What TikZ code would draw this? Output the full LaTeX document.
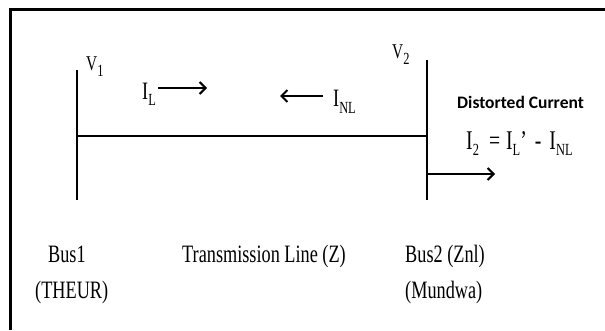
\documentclass[tikz,border=0pt]{standalone}
\usepackage{fontspec}
\setmainfont{Liberation Serif}
\newfontfamily\carl{Carlito}
\usetikzlibrary{arrows.meta}
\newcommand{\sq}[1]{\scalebox{0.73}[1]{#1}}
\newcommand{\lo}[1]{\raisebox{-6pt}{\fontsize{17}{17}\selectfont #1}}
\begin{document}
\begin{tikzpicture}[x=1pt,y=1pt,
  bus/.style={line width=2.4pt},
  cur/.style={line width=2pt,-{Straight Barb[length=6pt,width=12pt]}},
  lbl/.style={anchor=base west,inner sep=0pt,font=\fontsize{25}{27}\selectfont},
  sym/.style={anchor=base west,inner sep=0pt,font=\fontsize{25}{27}\selectfont}]
\useasboundingbox (0,0) rectangle (605,330);
\draw[line width=2.6pt] (10.5,0) -- (10.5,320.5) -- (605,320.5);
\coordinate (b1t) at (77,260); \coordinate (b1b) at (77,130);
\coordinate (b2t) at (427,270); \coordinate (b2b) at (427,130);
\coordinate (l1) at (77,194); \coordinate (l2) at (427,194);
\coordinate (o1) at (427,156); \coordinate (o2) at (495,156);
\coordinate (ia1) at (158,242); \coordinate (ia2) at (207,242);
\coordinate (ib1) at (323,234); \coordinate (ib2) at (280,234);
\draw[bus] (b1t) -- (b1b);
\draw[bus] (b2t) -- (b2b);
\draw[bus] (l1) -- (l2);
\draw[cur] (o1) -- (o2);
\draw[cur] (ia1) -- (ia2);
\draw[cur] (ib1) -- (ib2);
\node[sym,font=\fontsize{21}{23}\selectfont] (v1) at (86,259) {\sq{V\lo{1}}};
\node[sym,font=\fontsize{21}{23}\selectfont] (v2) at (392,271) {\sq{V\lo{2}}};
\node[sym] (il) at (142,230) {\sq{I\lo{L}}};
\node[sym] (inl) at (333,223) {\sq{I\lo{NL}}};
\node[anchor=base west,inner sep=0pt,font=\carl\bfseries\fontsize{17.5}{19}\selectfont] (dc) at (457,222) {Distorted Current};
\node[sym,font=\fontsize{27}{29}\selectfont] (eq) at (466,181) {\sq{I\lo{2}\hspace{14pt}=\hspace{8pt}I\lo{L}'\hspace{11pt}-\hspace{11pt}I\lo{NL}}};
\node[lbl] (bus1) at (48,68) {\sq{Bus1}};
\node[lbl] (theur) at (35,32) {\sq{(THEUR)}};
\node[lbl] (tl) at (182,68) {\sq{Transmission Line (Z)}};
\node[lbl] (bus2) at (405,68) {\sq{Bus2 (Znl)}};
\node[lbl] (mundwa) at (405,32) {\sq{(Mundwa)}};
\end{tikzpicture}
\end{document}
